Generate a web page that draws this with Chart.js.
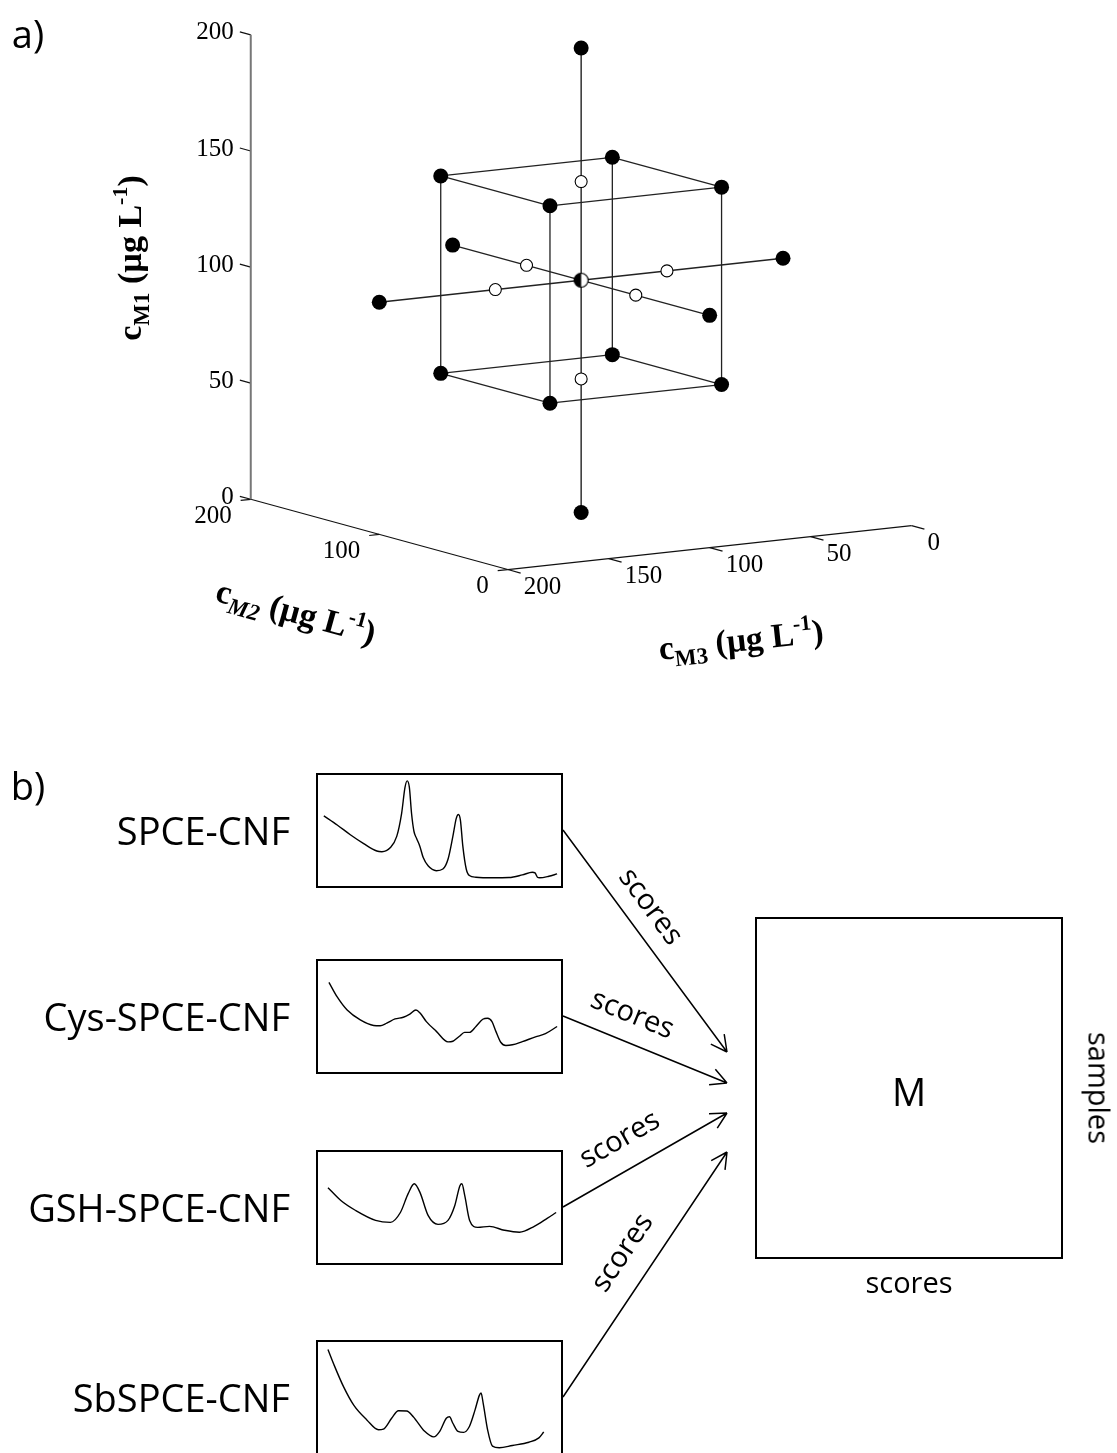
<!DOCTYPE html>
<html>
<head>
<meta charset="utf-8">
<title>CCD and multi-sensor scores</title>
<script src="https://cdn.jsdelivr.net/npm/chart.js@4.4.1/dist/chart.umd.min.js"></script>
<style>
  html, body { margin: 0; padding: 0; background: #fff; }
  #page { position: relative; width: 1117px; height: 1453px; overflow: hidden; background: #fff; }
  #diagram, #design { position: absolute; left: 0; top: 0; }
  .spec { position: absolute; width: 243px; height: 111px; border: 2px solid #000; background: #fff; }
  .spec canvas { display: block; }
  .lbl { position: absolute; font-family: 'Open Sans', sans-serif; color: #000; white-space: nowrap; line-height: 1; }
</style>
</head>
<body>
<div id="page">
  <canvas id="diagram" width="1117" height="1453"></canvas>
  <canvas id="design" width="1117" height="700"></canvas>
</div>
<script>
'use strict';

// DATA
// a) central composite design, concentrations in µg L-1
// cube points
const cubeM1 = [57.5, 57.5, 57.5, 57.5, 142.5, 142.5, 142.5, 142.5];
const cubeM2 = [57.5, 57.5, 142.5, 142.5, 57.5, 57.5, 142.5, 142.5];
const cubeM3 = [57.5, 142.5, 57.5, 142.5, 57.5, 142.5, 57.5, 142.5];
// star (axial) points
const starM1 = [0, 200, 100, 100, 100, 100];
const starM2 = [100, 100, 0, 200, 100, 100];
const starM3 = [100, 100, 100, 100, 0, 200];
// open circles on the star arms
const innerM1 = [57.5, 142.5, 100, 100, 100, 100];
const innerM2 = [100, 100, 57.5, 142.5, 100, 100];
const innerM3 = [100, 100, 100, 100, 57.5, 142.5];
// centre point
const centreM = [100, 100, 100];
// tick labels
const m1Ticks = [0, 50, 100, 150, 200];
const m2Ticks = [0, 100, 200];
const m3Ticks = [0, 50, 100, 150, 200];

// b) voltammograms (x: potential, y: current, both relative 0-100)
const spceX = [2.4, 7.9, 13.3, 18.8, 24.2, 26.3, 29.7, 32.4, 34.4, 35.8, 36.7, 37.6, 38.5, 39.5, 40.5, 41.9, 43.3, 45.3, 48.7, 51.4, 53.5, 55.5, 56.9, 57.8, 58.6, 59.6, 61.0, 62.3, 65.0, 71.8, 78.6, 84.1, 88.2, 89.3, 90.3, 91.2, 95.0, 98.4];
const spceY = [63.2, 55.0, 46.2, 38.2, 31.5, 30.9, 34.4, 44.7, 65.3, 88.8, 94.7, 88.8, 65.3, 49.1, 43.2, 35.9, 25.6, 18.2, 13.8, 15.3, 24.1, 44.7, 60.9, 64.4, 59.4, 35.9, 15.3, 9.4, 7.9, 7.4, 7.6, 10.0, 12.4, 11.8, 7.9, 7.4, 8.8, 10.9];
const cysX = [4.5, 7.9, 12.0, 17.4, 22.9, 25.6, 28.3, 31.7, 35.1, 37.8, 40.3, 41.9, 44.6, 48.7, 53.5, 55.5, 58.2, 60.3, 62.3, 65.0, 67.8, 69.8, 71.6, 73.2, 75.2, 77.3, 80.0, 84.1, 89.5, 93.6, 98.4];
const cysY = [80.8, 67.6, 55.8, 46.9, 41.9, 41.6, 44.0, 47.8, 49.3, 52.2, 55.8, 53.4, 45.4, 36.6, 27.1, 27.7, 32.2, 35.7, 35.7, 41.0, 47.5, 48.4, 45.4, 36.6, 26.8, 23.9, 24.5, 27.4, 31.6, 34.5, 41.0];
const gshX = [4.1, 9.4, 15.5, 23.7, 29.8, 33.9, 37.1, 39.6, 42.0, 45.3, 49.4, 53.5, 56.3, 58.4, 59.2, 60.4, 62.4, 65.7, 70.6, 76.7, 82.9, 89.0, 94.3, 98.0];
const gshY = [67.9, 56.3, 47.3, 38.4, 36.6, 45.5, 62.5, 71.4, 63.4, 42.9, 34.8, 38.4, 51.8, 69.6, 71.4, 60.7, 38.4, 32.1, 33.0, 29.5, 27.7, 33.0, 40.2, 45.5];
const sbX = [4.1, 6.5, 10.6, 14.7, 20.1, 24.9, 26.9, 30.3, 33.1, 36.5, 39.2, 43.9, 47.6, 50.1, 52.8, 54.1, 55.5, 57.6, 59.9, 62.3, 64.6, 66.4, 67.1, 68.0, 69.8, 71.8, 74.6, 80.0, 86.8, 90.9, 92.9];
const sbY = [93.2, 79.9, 59.3, 43.1, 29.8, 20.9, 21.5, 31.3, 38.1, 37.8, 32.7, 19.5, 14.5, 19.5, 31.3, 32.7, 26.8, 19.5, 18.6, 23.9, 38.6, 51.9, 54.0, 44.5, 20.9, 6.2, 4.7, 6.8, 9.7, 13.6, 18.9];
const sensorNames = ['SPCE-CNF', 'Cys-SPCE-CNF', 'GSH-SPCE-CNF', 'SbSPCE-CNF'];

// LAYOUT
const page = document.getElementById('page');
// 3D view: screen position of the (cM1=0, cM2=0, cM3=200) corner and axis directions
const view = { x0: 507, y0: 575, k1: 2.38, a2: 1.305, b2: 0.36, a3: 2.05, b3: 0.225 };
const specTops = [773, 959, 1150, 1340];
const specLeft = 316;
const tipX = 727;
const tipY = [1052, 1083, 1113, 1152];
const labelPos = [[0.41, 24], [0.36, 27], [0.44, 30], [0.52, 30]]; // along arrow, off arrow
const mBox = { left: 756, top: 918, right: 1062, bottom: 1258 };

const project = function (m1, m2, m3) {
  return {
    x: view.x0 - view.a2 * m2 - view.a3 * (m3 - 200),
    y: view.y0 - view.k1 * m1 - view.b2 * m2 + view.b3 * (m3 - 200),
  };
};

// PART A - design chart
const segment = function (p, q, color, width, order) {
  return {
    data: [p, q],
    showLine: true,
    borderColor: color,
    borderWidth: width,
    pointRadius: 0,
    order: order,
  };
};

const datasets = [];

// axes
datasets.push(segment(project(0, 200, 200), project(200, 200, 200), '#777', 2, 5));
datasets.push(segment(project(0, 200, 200), project(0, 0, 200), '#111', 1.2, 5));
datasets.push(segment(project(0, 0, 200), project(0, 0, 0), '#111', 1.2, 5));

// ticks
m1Ticks.forEach(function (v) {
  datasets.push(segment(project(v, 200, 200), project(v, 208.5, 200), '#111', 1.2, 5));
});
m2Ticks.forEach(function (v) {
  datasets.push(segment(project(0, v, 200), project(0, v, 205), '#111', 1.2, 5));
});
m3Ticks.forEach(function (v) {
  datasets.push(segment(project(0, 0, v), project(0, -10, v), '#111', 1.2, 5));
});

// cube edges: pairs differing in one factor only
for (let i = 0; i < cubeM1.length; i++) {
  for (let j = i + 1; j < cubeM1.length; j++) {
    const diff =
      (cubeM1[i] !== cubeM1[j]) + (cubeM2[i] !== cubeM2[j]) + (cubeM3[i] !== cubeM3[j]);
    if (diff === 1) {
      datasets.push(
        segment(
          project(cubeM1[i], cubeM2[i], cubeM3[i]),
          project(cubeM1[j], cubeM2[j], cubeM3[j]),
          '#222', 1.3, 4
        )
      );
    }
  }
}

// star arms
for (let i = 0; i < starM1.length; i += 2) {
  datasets.push(
    segment(
      project(starM1[i], starM2[i], starM3[i]),
      project(starM1[i + 1], starM2[i + 1], starM3[i + 1]),
      '#222', 1.4, 4
    )
  );
}

const halfDot = function (r) {
  const c = document.createElement('canvas');
  const s = Math.ceil(2 * r + 3);
  c.width = s;
  c.height = s;
  const g = c.getContext('2d');
  const m = s / 2;
  g.beginPath();
  g.arc(m, m, r, 0, Math.PI * 2);
  g.fillStyle = '#fff';
  g.fill();
  g.beginPath();
  g.moveTo(m, m - r);
  g.arc(m, m, r, -Math.PI / 2, Math.PI / 2, true);
  g.closePath();
  g.fillStyle = '#000';
  g.fill();
  g.beginPath();
  g.arc(m, m, r, 0, Math.PI * 2);
  g.lineWidth = 1.2;
  g.strokeStyle = '#000';
  g.stroke();
  return c;
};

datasets.push({
  data: cubeM1.map((v, i) => project(v, cubeM2[i], cubeM3[i]))
    .concat(starM1.map((v, i) => project(v, starM2[i], starM3[i]))),
  pointRadius: 7.5,
  pointBackgroundColor: '#000',
  pointBorderColor: '#000',
  pointBorderWidth: 0,
  order: 1,
});
datasets.push({
  data: innerM1.map((v, i) => project(v, innerM2[i], innerM3[i])),
  pointRadius: 6,
  pointBackgroundColor: '#fff',
  pointBorderColor: '#000',
  pointBorderWidth: 1.1,
  order: 1,
});
datasets.push({
  data: [project(centreM[0], centreM[1], centreM[2])],
  pointStyle: halfDot(7),
  pointRadius: 7.5,
  order: 0,
});

const serif = '"Liberation Serif", "Times New Roman", serif';

const drawRich = function (ctx, parts, cx, cy, angle) {
  ctx.save();
  ctx.translate(cx, cy);
  ctx.rotate(angle);
  let total = 0;
  parts.forEach(function (p) {
    ctx.font = p.font;
    p.w = ctx.measureText(p.t).width;
    total += p.w;
  });
  let x = -total / 2;
  ctx.textAlign = 'left';
  ctx.textBaseline = 'alphabetic';
  ctx.fillStyle = '#000';
  parts.forEach(function (p) {
    ctx.font = p.font;
    ctx.fillText(p.t, x, p.dy);
    x += p.w;
  });
  ctx.restore();
};

const titleParts = function (sub, subItalic) {
  const big = 'bold 34px ' + serif;
  return [
    { t: 'c', font: big, dy: 11 },
    { t: sub, font: (subItalic ? 'italic ' : '') + 'bold 23px ' + serif, dy: 19 },
    { t: ' (\u00b5g L', font: big, dy: 11 },
    { t: '-1', font: 'bold 22px ' + serif, dy: -3 },
    { t: ')', font: big, dy: 11 },
  ];
};

const axisText = {
  id: 'axisText',
  afterDraw(chart) {
    const ctx = chart.ctx;
    const sx = chart.scales.x;
    const sy = chart.scales.y;
    const px = p => ({ x: sx.getPixelForValue(p.x), y: sy.getPixelForValue(p.y) });
    ctx.save();
    ctx.fillStyle = '#000';
    ctx.font = '25px ' + serif;
    ctx.textBaseline = 'middle';

    ctx.textAlign = 'right';
    m1Ticks.forEach(function (v) {
      const p = px(project(v, 200, 200));
      ctx.fillText(String(v), p.x - 17, p.y - 2);
    });
    m2Ticks.forEach(function (v) {
      const p = px(project(0, v, 200));
      ctx.fillText(String(v), p.x - 19, p.y + 17);
    });
    ctx.textAlign = 'left';
    m3Ticks.forEach(function (v) {
      const p = px(project(0, 0, v));
      ctx.fillText(String(v), p.x + 16, p.y + 18);
    });

    // axis titles
    drawRich(ctx, titleParts('M1', false), 130, 258, -Math.PI / 2);
    const a2 = project(0, 200, 200);
    const b2 = project(0, 0, 200);
    drawRich(ctx, titleParts('M2', true), 296, 612, Math.atan2(b2.y - a2.y, b2.x - a2.x));
    const a3 = project(0, 0, 200);
    const b3 = project(0, 0, 0);
    drawRich(ctx, titleParts('M3', false), 741, 640, Math.atan2(b3.y - a3.y, b3.x - a3.x));
    ctx.restore();
  },
};

const designChart = new Chart(document.getElementById('design'), {
  type: 'scatter',
  data: { datasets: datasets },
  options: {
    responsive: false,
    animation: false,
    devicePixelRatio: 1,
    layout: { padding: 0 },
    plugins: { legend: { display: false }, tooltip: { enabled: false } },
    scales: {
      x: { type: 'linear', display: false, min: 0, max: 1117 },
      y: { type: 'linear', display: false, min: 0, max: 700, reverse: true },
    },
  },
  plugins: [axisText],
});

// PART B - sensor voltammograms
const spectra = [
  [spceX, spceY],
  [cysX, cysY],
  [gshX, gshY],
  [sbX, sbY],
];

spectra.forEach(function (s, i) {
  const box = document.createElement('div');
  box.className = 'spec';
  box.style.left = specLeft + 'px';
  box.style.top = specTops[i] + 'px';
  const cv = document.createElement('canvas');
  cv.width = 243;
  cv.height = 111;
  box.appendChild(cv);
  page.appendChild(box);

  new Chart(cv, {
    type: 'scatter',
    data: {
      datasets: [
        {
          data: s[0].map((x, k) => ({ x: x, y: s[1][k] })),
          showLine: true,
          borderColor: '#000',
          borderWidth: 1.4,
          pointRadius: 0,
          cubicInterpolationMode: 'monotone',
        },
      ],
    },
    options: {
      responsive: false,
      animation: false,
      devicePixelRatio: 1,
      layout: { padding: 0 },
      plugins: { legend: { display: false }, tooltip: { enabled: false } },
      scales: {
        x: { type: 'linear', display: false, min: 0, max: 100 },
        y: { type: 'linear', display: false, min: 0, max: 100 },
      },
    },
  });
});

// text helpers
const addLabel = function (text, cx, cy, angle, size, lift) {
  const el = document.createElement('div');
  el.className = 'lbl';
  el.textContent = text;
  el.style.fontSize = size + 'px';
  el.style.left = cx + 'px';
  el.style.top = cy + 'px';
  el.style.transform =
    'translate(-50%, -50%) rotate(' + angle + 'rad) translate(0px, ' + -lift * size + 'px)';
  page.appendChild(el);
};

const addRightLabel = function (text, right, cy, size) {
  const el = document.createElement('div');
  el.className = 'lbl';
  el.textContent = text;
  el.style.fontSize = size + 'px';
  el.style.left = '0px';
  el.style.width = right + 'px';
  el.style.textAlign = 'right';
  el.style.top = cy + 'px';
  el.style.transform = 'translateY(-50%)';
  page.appendChild(el);
};

// panel tags
addLabel('a)', 28, 33, 0, 38, 0);
addLabel('b)', 28, 785, 0, 38, 0);

// diagram: arrows and M matrix
const dg = document.getElementById('diagram').getContext('2d');
dg.strokeStyle = '#000';
dg.lineWidth = 2;
dg.strokeRect(mBox.left, mBox.top, mBox.right - mBox.left, mBox.bottom - mBox.top);

sensorNames.forEach(function (name, i) {
  const cy = specTops[i] + 57;
  addRightLabel(name, 290, cy, 38);

  const sx = specLeft + 247;
  const ex = tipX;
  const ey = tipY[i];
  const dx = ex - sx;
  const dy = ey - cy;
  const len = Math.hypot(dx, dy);
  const ang = Math.atan2(dy, dx);

  dg.lineWidth = 1.5;
  dg.beginPath();
  dg.moveTo(sx, cy);
  dg.lineTo(ex, ey);
  [0.48, -0.48].forEach(function (da) {
    dg.moveTo(ex, ey);
    dg.lineTo(ex - 18 * Math.cos(ang + da), ey - 18 * Math.sin(ang + da));
  });
  dg.stroke();

  const t = labelPos[i][0];
  const off = labelPos[i][1];
  const ux = dx / len;
  const uy = dy / len;
  const lx = sx + dx * t + uy * off;
  const ly = cy + dy * t - ux * off;
  addLabel('scores', lx, ly, ang, 29, 0.12);
});

addLabel('M', (mBox.left + mBox.right) / 2, (mBox.top + mBox.bottom) / 2 + 4, 0, 38, 0.03);
addLabel('scores', (mBox.left + mBox.right) / 2, mBox.bottom + 27, 0, 29, 0.12);
addLabel('samples', mBox.right + 38, (mBox.top + mBox.bottom) / 2, Math.PI / 2, 29, 0);
</script>
</body>
</html>
